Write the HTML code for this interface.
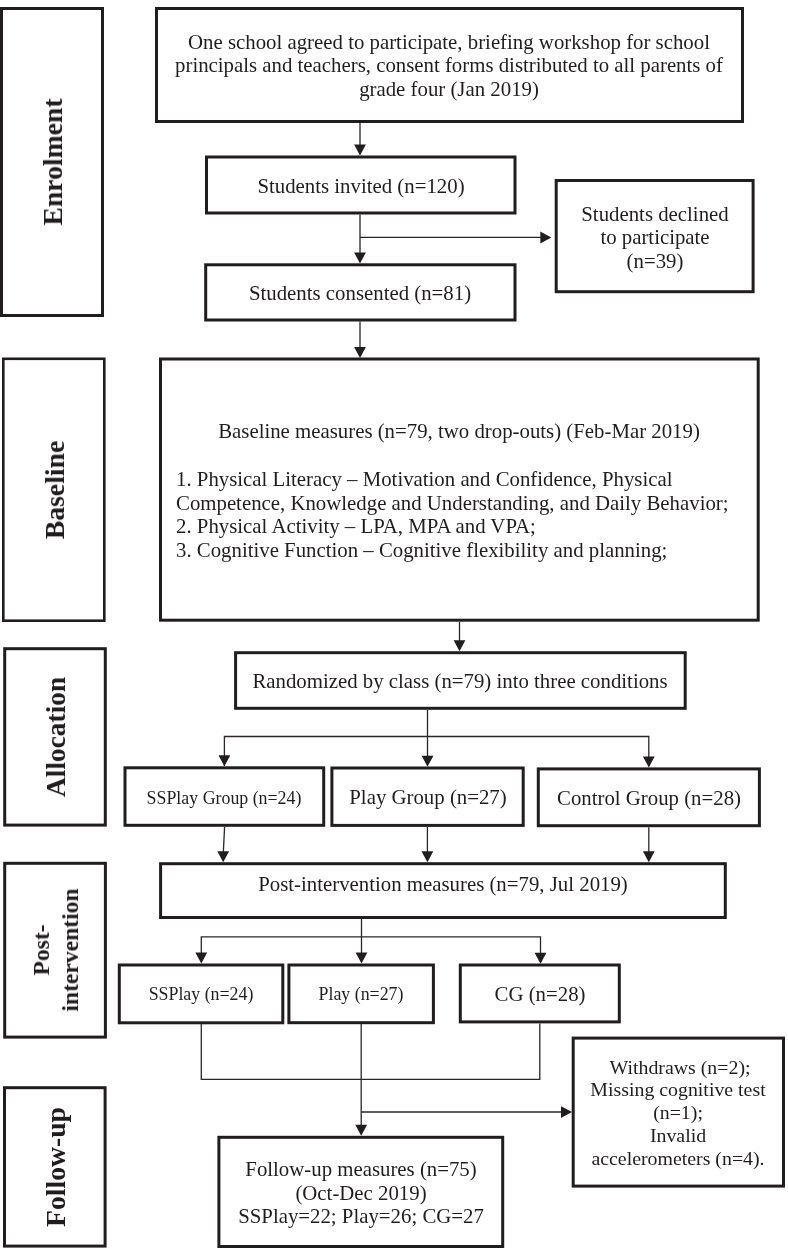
<!DOCTYPE html>
<html><head><meta charset="utf-8"><style>
html,body{margin:0;padding:0;background:#fff;}
body{width:788px;height:1250px;position:relative;overflow:hidden;font-family:"Liberation Serif",serif;color:#211d1e;}
.t{position:absolute;white-space:nowrap;line-height:1;will-change:transform;}
.v{position:absolute;white-space:nowrap;font-weight:bold;line-height:1;transform-origin:0 0;will-change:transform;}
svg{position:absolute;left:0;top:0;}
</style></head><body>
<svg width="788" height="1250" viewBox="0 0 788 1250">

<rect x="1.50" y="8.50" width="101.00" height="307.00" fill="none" stroke="#211d1e" stroke-width="3.00"/>
<rect x="3.30" y="358.80" width="101.00" height="261.90" fill="none" stroke="#211d1e" stroke-width="2.60"/>
<rect x="4.70" y="648.70" width="100.60" height="176.40" fill="none" stroke="#211d1e" stroke-width="3.00"/>
<rect x="4.70" y="863.30" width="100.70" height="173.80" fill="none" stroke="#211d1e" stroke-width="3.00"/>
<rect x="4.50" y="1087.70" width="100.60" height="158.40" fill="none" stroke="#211d1e" stroke-width="3.00"/>
<rect x="156.50" y="8.50" width="586.00" height="113.00" fill="none" stroke="#211d1e" stroke-width="3.00"/>
<rect x="206.50" y="157.00" width="308.50" height="56.00" fill="none" stroke="#211d1e" stroke-width="3.00"/>
<rect x="556.20" y="180.50" width="196.90" height="111.20" fill="none" stroke="#211d1e" stroke-width="3.00"/>
<rect x="205.70" y="264.80" width="309.30" height="55.20" fill="none" stroke="#211d1e" stroke-width="3.00"/>
<rect x="160.50" y="359.00" width="597.70" height="261.20" fill="none" stroke="#211d1e" stroke-width="3.00"/>
<rect x="235.60" y="652.70" width="449.60" height="55.60" fill="none" stroke="#211d1e" stroke-width="3.00"/>
<rect x="125.00" y="767.80" width="198.70" height="57.50" fill="none" stroke="#211d1e" stroke-width="3.00"/>
<rect x="331.90" y="768.00" width="191.30" height="57.40" fill="none" stroke="#211d1e" stroke-width="3.00"/>
<rect x="538.30" y="768.90" width="221.10" height="56.80" fill="none" stroke="#211d1e" stroke-width="3.00"/>
<rect x="160.60" y="863.70" width="564.70" height="53.80" fill="none" stroke="#211d1e" stroke-width="3.00"/>
<rect x="119.30" y="965.00" width="163.50" height="57.80" fill="none" stroke="#211d1e" stroke-width="3.00"/>
<rect x="288.90" y="965.00" width="144.50" height="57.70" fill="none" stroke="#211d1e" stroke-width="3.00"/>
<rect x="460.30" y="965.00" width="159.00" height="56.90" fill="none" stroke="#211d1e" stroke-width="3.00"/>
<rect x="573.20" y="1038.10" width="210.30" height="148.00" fill="none" stroke="#211d1e" stroke-width="3.00"/>
<rect x="218.90" y="1137.30" width="283.80" height="109.20" fill="none" stroke="#211d1e" stroke-width="3.00"/>
<polyline points="360.00,123.00 360.00,146.00" fill="none" stroke="#2a2627" stroke-width="1.3"/>
<polyline points="360.00,214.50 360.00,254.00" fill="none" stroke="#2a2627" stroke-width="1.3"/>
<polyline points="360.00,237.30 542.00,237.30" fill="none" stroke="#2a2627" stroke-width="1.3"/>
<polyline points="360.00,321.50 360.00,348.00" fill="none" stroke="#2a2627" stroke-width="1.3"/>
<polyline points="459.50,621.70 459.50,641.00" fill="none" stroke="#2a2627" stroke-width="1.3"/>
<polyline points="427.50,709.80 427.50,736.50" fill="none" stroke="#2a2627" stroke-width="1.3"/>
<polyline points="224.40,766.00 224.40,736.50 648.80,736.50 648.80,766.00" fill="none" stroke="#2a2627" stroke-width="1.3"/>
<polyline points="427.50,736.50 427.50,757.00" fill="none" stroke="#2a2627" stroke-width="1.3"/>
<polyline points="224.60,826.80 223.30,853.00" fill="none" stroke="#2a2627" stroke-width="1.3"/>
<polyline points="427.40,826.90 427.40,853.00" fill="none" stroke="#2a2627" stroke-width="1.3"/>
<polyline points="648.80,827.20 648.80,853.00" fill="none" stroke="#2a2627" stroke-width="1.3"/>
<polyline points="361.50,919.00 361.50,955.00" fill="none" stroke="#2a2627" stroke-width="1.3"/>
<polyline points="201.30,955.00 201.30,936.80 540.50,936.80 540.50,955.00" fill="none" stroke="#2a2627" stroke-width="1.3"/>
<polyline points="201.30,1024.00 201.30,1079.30 539.80,1079.30 539.80,1023.40" fill="none" stroke="#2a2627" stroke-width="1.3"/>
<polyline points="361.20,1024.00 361.20,1127.00" fill="none" stroke="#2a2627" stroke-width="1.3"/>
<polyline points="361.20,1112.00 563.00,1112.00" fill="none" stroke="#2a2627" stroke-width="1.3"/>
<polygon points="354.10,144.50 365.90,144.50 360.00,155.50" fill="#211d1e"/>
<polygon points="354.10,252.50 365.90,252.50 360.00,263.50" fill="#211d1e"/>
<polygon points="540.30,231.60 540.30,243.40 551.30,237.50" fill="#211d1e"/>
<polygon points="354.10,347.00 365.90,347.00 360.00,358.00" fill="#211d1e"/>
<polygon points="453.60,640.20 465.40,640.20 459.50,651.20" fill="#211d1e"/>
<polygon points="218.50,755.30 230.30,755.30 224.40,766.30" fill="#211d1e"/>
<polygon points="421.60,755.70 433.40,755.70 427.50,766.70" fill="#211d1e"/>
<polygon points="642.90,756.40 654.70,756.40 648.80,767.40" fill="#211d1e"/>
<polygon points="217.30,851.20 229.10,851.20 223.20,862.20" fill="#211d1e"/>
<polygon points="421.50,851.20 433.30,851.20 427.40,862.20" fill="#211d1e"/>
<polygon points="642.90,851.20 654.70,851.20 648.80,862.20" fill="#211d1e"/>
<polygon points="195.40,952.50 207.20,952.50 201.30,963.50" fill="#211d1e"/>
<polygon points="355.60,952.50 367.40,952.50 361.50,963.50" fill="#211d1e"/>
<polygon points="534.60,952.80 546.40,952.80 540.50,963.80" fill="#211d1e"/>
<polygon points="355.30,1124.80 367.10,1124.80 361.20,1135.80" fill="#211d1e"/>
<polygon points="561.00,1106.20 561.00,1118.00 572.00,1112.10" fill="#211d1e"/>
</svg>
<div class="t" style="left:448.70px;top:31.86px;font-size:20.82px;width:0;display:flex;justify-content:center;">One school agreed to participate, briefing workshop for school</div>
<div class="t" style="left:448.70px;top:55.36px;font-size:20.82px;width:0;display:flex;justify-content:center;">principals and teachers, consent forms distributed to all parents of</div>
<div class="t" style="left:448.70px;top:78.76px;font-size:20.82px;width:0;display:flex;justify-content:center;">grade four (Jan 2019)</div>
<div class="t" style="left:360.70px;top:176.16px;font-size:20.82px;width:0;display:flex;justify-content:center;">Students invited (n=120)</div>
<div class="t" style="left:654.80px;top:203.86px;font-size:20.82px;width:0;display:flex;justify-content:center;">Students declined</div>
<div class="t" style="left:654.80px;top:227.46px;font-size:20.82px;width:0;display:flex;justify-content:center;">to participate</div>
<div class="t" style="left:654.80px;top:251.06px;font-size:20.82px;width:0;display:flex;justify-content:center;">(n=39)</div>
<div class="t" style="left:360.30px;top:283.16px;font-size:20.82px;width:0;display:flex;justify-content:center;">Students consented (n=81)</div>
<div class="t" style="left:459.40px;top:421.26px;font-size:20.82px;width:0;display:flex;justify-content:center;">Baseline measures (n=79, two drop-outs) (Feb-Mar 2019)</div>
<div class="t" style="left:176.30px;top:469.36px;font-size:20.82px;">1. Physical Literacy – Motivation and Confidence, Physical</div>
<div class="t" style="left:176.30px;top:492.86px;font-size:20.82px;">Competence, Knowledge and Understanding, and Daily Behavior;</div>
<div class="t" style="left:176.30px;top:516.46px;font-size:20.82px;">2. Physical Activity – LPA, MPA and VPA;</div>
<div class="t" style="left:176.30px;top:540.26px;font-size:20.82px;">3. Cognitive Function – Cognitive flexibility and planning;</div>
<div class="t" style="left:460.40px;top:670.96px;font-size:20.82px;width:0;display:flex;justify-content:center;">Randomized by class (n=79) into three conditions</div>
<div class="t" style="left:224.40px;top:789.85px;font-size:17.85px;width:0;display:flex;justify-content:center;">SSPlay Group (n=24)</div>
<div class="t" style="left:427.50px;top:787.36px;font-size:20.82px;width:0;display:flex;justify-content:center;">Play Group (n=27)</div>
<div class="t" style="left:648.90px;top:788.26px;font-size:20.82px;width:0;display:flex;justify-content:center;">Control Group (n=28)</div>
<div class="t" style="left:443.00px;top:874.36px;font-size:20.82px;width:0;display:flex;justify-content:center;">Post-intervention measures (n=79, Jul 2019)</div>
<div class="t" style="left:201.00px;top:985.65px;font-size:17.85px;width:0;display:flex;justify-content:center;">SSPlay (n=24)</div>
<div class="t" style="left:361.30px;top:985.75px;font-size:17.85px;width:0;display:flex;justify-content:center;">Play (n=27)</div>
<div class="t" style="left:539.70px;top:984.26px;font-size:20.82px;width:0;display:flex;justify-content:center;">CG (n=28)</div>
<div class="t" style="left:679.50px;top:1057.58px;font-size:19.85px;width:0;display:flex;justify-content:center;">Withdraws (n=2);</div>
<div class="t" style="left:678.40px;top:1080.08px;font-size:19.85px;width:0;display:flex;justify-content:center;">Missing cognitive test</div>
<div class="t" style="left:678.40px;top:1103.08px;font-size:19.85px;width:0;display:flex;justify-content:center;">(n=1);</div>
<div class="t" style="left:678.40px;top:1126.08px;font-size:19.85px;width:0;display:flex;justify-content:center;">Invalid</div>
<div class="t" style="left:678.40px;top:1148.68px;font-size:19.85px;width:0;display:flex;justify-content:center;">accelerometers (n=4).</div>
<div class="t" style="left:360.90px;top:1159.46px;font-size:20.82px;width:0;display:flex;justify-content:center;">Follow-up measures (n=75)</div>
<div class="t" style="left:360.90px;top:1183.06px;font-size:20.82px;width:0;display:flex;justify-content:center;">(Oct-Dec 2019)</div>
<div class="t" style="left:360.90px;top:1206.46px;font-size:20.82px;width:0;display:flex;justify-content:center;">SSPlay=22; Play=26; CG=27</div>
<div class="v" style="left:38.90px;top:161.70px;font-size:27.70px;transform:rotate(-90deg) translateX(-50%);">Enrolment</div>
<div class="v" style="left:41.10px;top:489.50px;font-size:27.70px;transform:rotate(-90deg) translateX(-50%);">Baseline</div>
<div class="v" style="left:42.55px;top:737.20px;font-size:27.40px;transform:rotate(-90deg) translateX(-50%);">Allocation</div>
<div class="v" style="left:29.53px;top:950.20px;font-size:23.60px;transform:rotate(-90deg) translateX(-50%);">Post-</div>
<div class="v" style="left:58.64px;top:950.20px;font-size:23.60px;transform:rotate(-90deg) translateX(-50%);">intervention</div>
<div class="v" style="left:42.30px;top:1167.00px;font-size:27.70px;transform:rotate(-90deg) translateX(-50%);">Follow-up</div>
</body></html>
